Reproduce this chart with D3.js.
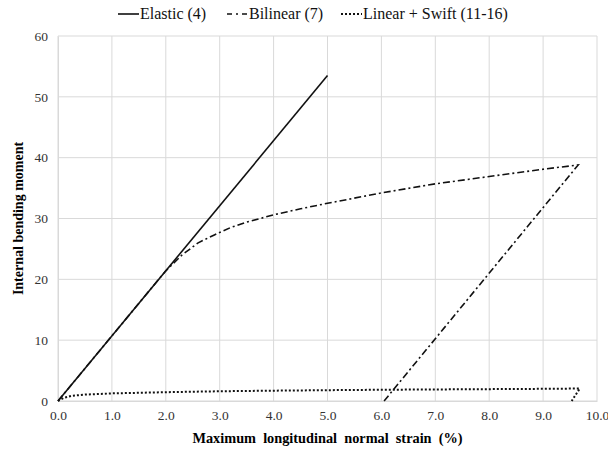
<!DOCTYPE html>
<html><head><meta charset="utf-8">
<script src="https://cdn.jsdelivr.net/npm/d3@7"></script>
<style>body{margin:0;background:#fff;} svg{display:block;} text{font-family:'Liberation Serif','Times New Roman',serif;}</style>
</head><body>
<script>
const xTicks = [0,1,2,3,4,5,6,7,8,9,10];
const yTicks = [0,10,20,30,40,50,60];
const seriesNames = ["Elastic (4)", "Bilinear (7)", "Linear + Swift (11-16)"];
const elastic = [[0,0],[5.0,53.5]];
const bilinear = [[0,0],[2.0,21.4],[2.3,24.0],[2.6,26.0],[2.9,27.3],[3.2,28.5],[3.5,29.4],[4.0,30.6],[4.5,31.6],[5.0,32.5],[6.0,34.2],[7.0,35.7],[8.0,36.9],[9.0,38.1],[9.65,38.8],[6.05,0]];
const swift = [[0,0],[0.1,0.5],[0.25,0.85],[0.5,1.05],[1,1.25],[2,1.45],[3,1.6],[4,1.7],[5,1.78],[6,1.85],[7,1.9],[8,1.95],[9,2.0],[9.68,2.05],[9.53,0]];

const W=608,H=453;
const svg=d3.select("body").append("svg").attr("width",W).attr("height",H);
const x=d3.scaleLinear().domain([0,10]).range([58,597]);
const y=d3.scaleLinear().domain([0,60]).range([401,36]);
const serif="'Liberation Serif','Times New Roman',serif";

// gridlines
svg.append("g").selectAll("line.v").data(xTicks).join("line")
  .attr("x1",d=>x(d)).attr("x2",d=>x(d)).attr("y1",y(0)).attr("y2",y(60))
  .attr("stroke","#d9d9d9").attr("stroke-width",1);
svg.append("g").selectAll("line.h").data(yTicks).join("line")
  .attr("x1",x(0)).attr("x2",x(10)).attr("y1",d=>y(d)).attr("y2",d=>y(d))
  .attr("stroke","#d9d9d9").attr("stroke-width",1);

// axes
const xAxis=svg.append("g").attr("transform",`translate(0,${y(0)})`)
  .call(d3.axisBottom(x).tickValues(xTicks).tickFormat(d3.format(".1f")).tickSize(0).tickPadding(9));
const yAxis=svg.append("g").attr("transform",`translate(${x(0)},0)`)
  .call(d3.axisLeft(y).tickValues(yTicks).tickSize(0).tickPadding(10));
[xAxis,yAxis].forEach(g=>{
  g.attr("font-family",null);
  g.select(".domain").attr("stroke","#d9d9d9");
  g.selectAll("text").style("font-family",serif).style("font-size","13.5px").attr("fill","#333");
});

// lines
const line=d3.line().x(d=>x(d[0])).y(d=>y(d[1]));
const styles=[
  {data:elastic,dash:null,w:1.6},
  {data:bilinear,dash:"7,3,2,3",w:1.6},
  {data:swift,dash:"2,2",w:2}
];
styles.forEach(s=>{
  svg.append("path").datum(s.data).attr("d",line).attr("fill","none")
    .attr("stroke","#111").attr("stroke-width",s.w)
    .attr("stroke-dasharray",s.dash);
});

// legend
const legX=[118,227,341];
const legDash=[null,"5,4,2,4","2,2"];
const leg=svg.append("g");
seriesNames.forEach((n,i)=>{
  leg.append("line").attr("x1",legX[i]).attr("x2",legX[i]+21).attr("y1",14).attr("y2",14)
    .attr("stroke","#111").attr("stroke-width",styles[i].w).attr("stroke-dasharray",legDash[i]);
  leg.append("text").attr("x",legX[i]+22).attr("y",19).text(n)
    .style("font-family",serif).style("font-size","16px").attr("fill","#111");
});

// axis titles
svg.append("text").attr("x",(x(0)+x(10))/2).attr("y",443).attr("text-anchor","middle")
  .style("font-family",serif).style("font-size","14.3px").attr("font-weight","bold")
  .style("white-space","pre").text("Maximum  longitudinal  normal  strain  (%)");
svg.append("text").attr("transform",`translate(23,${(y(0)+y(60))/2}) rotate(-90)`)
  .attr("text-anchor","middle").style("font-family",serif).style("font-size","14px").attr("font-weight","bold")
  .text("Internal bending moment");
</script>
</body></html>
